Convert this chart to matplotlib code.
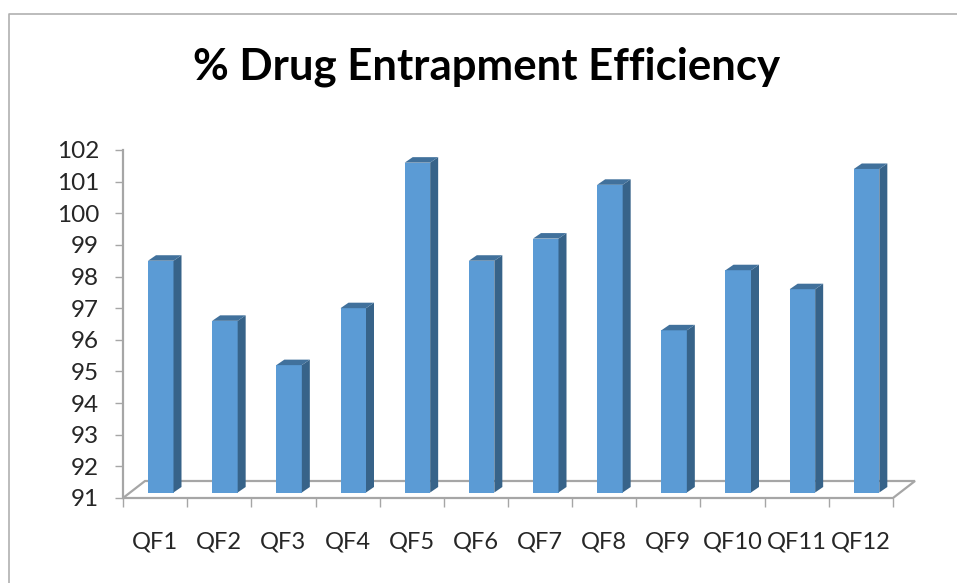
import matplotlib
matplotlib.use("Agg")
import matplotlib.pyplot as plt
from matplotlib.patches import Polygon
from matplotlib.lines import Line2D

plt.rcParams['font.family'] = ['Lato', 'DejaVu Sans']

categories = ["QF1", "QF2", "QF3", "QF4", "QF5", "QF6", "QF7", "QF8", "QF9", "QF10", "QF11", "QF12"]
values = [98.5, 96.6, 95.2, 97.0, 101.6, 98.5, 99.2, 100.9, 96.3, 98.2, 97.6, 101.4]
y_ticks = list(range(91, 103))
title = "% Drug Entrapment Efficiency"

W, H = 957, 583
fig = plt.figure(figsize=(W / 100, H / 100), dpi=100, facecolor="white")
L, R, T, B = 123, 893, 150, 498
ax = fig.add_axes([L / W, 1 - B / H, (R - L) / W, (B - T) / H])
ax.set_xlim(0, 12)
ax.set_ylim(91, 102)
ax.patch.set_alpha(0)

px = 12 / (R - L)      # category units per pixel
py = 11 / (B - T)      # value units per pixel
front = "#5B9BD5"
side = "#376389"
top = "#41719C"
grid = "#A6A6A6"

# floor of the 3D box
dx, dy = 22 * px, 17 * py
floor = [(0, 91), (12, 91), (12 + dx, 91 + dy), (dx, 91 + dy)]
ax.add_patch(Polygon(floor, closed=True, fill=False, ec=grid, lw=1.6, clip_on=False, zorder=1))

off_y = 5.5 * py
bar_w = 25.5 * px
d_x, d_y = 8 * px, 5.5 * py
for i, v in enumerate(values):
    x0 = i + 25 * px
    x1 = x0 + bar_w
    y0 = 91 + off_y
    y1 = v
    ax.add_patch(Polygon([(x0, y0), (x1, y0), (x1, y1), (x0, y1)], closed=True, fc=front, ec="none", zorder=3, clip_on=False))
    ax.add_patch(Polygon([(x1, y0), (x1 + d_x, y0 + d_y), (x1 + d_x, y1 + d_y), (x1, y1)], closed=True, fc=side, ec="none", zorder=3, clip_on=False))
    ax.add_patch(Polygon([(x0, y1), (x1, y1), (x1 + d_x, y1 + d_y), (x0 + d_x, y1 + d_y)], closed=True, fc=top, ec="none", zorder=3, clip_on=False))

ax.spines[["top", "right", "bottom"]].set_visible(False)
ax.spines["left"].set_color(grid)
ax.spines["left"].set_linewidth(1.6)
ax.set_yticks(y_ticks)
ax.set_xticks(range(13))
ax.set_xticklabels([])
ax.tick_params(axis="y", length=5.8, width=1, color=grid, labelsize=17.5, labelcolor="#262626", pad=11.5)
ax.tick_params(axis="x", length=6.5, width=1, color=grid)
for i, c in enumerate(categories):
    ax.annotate(c, (i + 0.5, 91), xytext=(0, -51), textcoords="offset pixels",
                ha="center", va="baseline", fontsize=17, color="#262626", annotation_clip=False)

fig.text(487 / W, 1 - 80 / H, title, ha="center", va="baseline", fontsize=31.5, fontweight="bold", color="black")

# outer chart frame: top and left edges only
fig.add_artist(Line2D([9 / W, 9 / W, 1], [0, 1 - 14 / H, 1 - 14 / H], color="#B0B0B0", lw=1.2))

fig.savefig("out.png", dpi=100)
